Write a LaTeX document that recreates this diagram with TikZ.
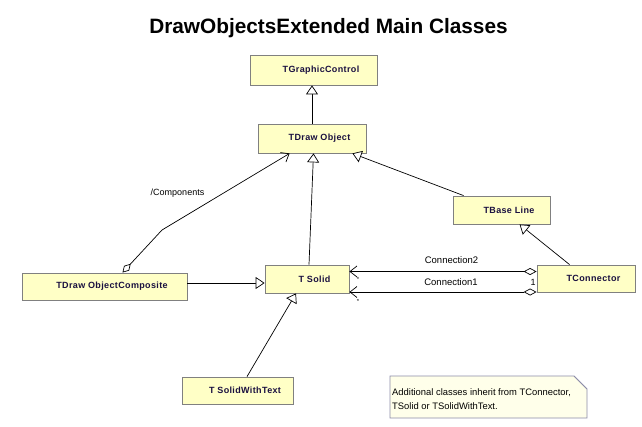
\documentclass[tikz,border=0pt]{standalone}
\usepackage{fontspec}
\setmainfont{Liberation Sans}
\newfontfamily\boxfont[LetterSpace=4]{Liberation Sans}
\usetikzlibrary{arrows.meta,calc}
\definecolor{boxfill}{HTML}{FFFFC6}
\definecolor{boxline}{HTML}{808080}
\definecolor{boxtext}{HTML}{1A1040}
\definecolor{notefill}{HTML}{FFFFEA}
\definecolor{noteline}{HTML}{8C8CA8}
\begin{document}
\begin{tikzpicture}[x=1pt,y=-1pt,
  cls/.style={draw=boxline, fill=boxfill, line width=0.8pt, inner sep=0pt,
    font=\boxfont\bfseries\fontsize{9}{10}\selectfont, text=boxtext,
    execute at begin node=\hspace*{15pt}},
  gen/.style={draw=black, line width=0.7pt, -{Triangle[open, length=9pt, width=12pt, fill=white]}},
  nav/.style={draw=black, line width=0.7pt},
  lbl/.style={font=\fontsize{9.5}{11}\selectfont, inner sep=0pt},
  mult/.style={font=\fontsize{6}{7}\selectfont, inner sep=0pt}
]
\useasboundingbox (0,0) rectangle (642,426);

\node[font=\bfseries\fontsize{20.8}{24}\selectfont, inner sep=0pt] (title) at (328.5,28.5) {DrawObjectsExtended Main Classes};

\node[cls, minimum width=127pt, minimum height=30pt] (gc) at (313.5,70) {TGraphicControl};
\node[cls, minimum width=108pt, minimum height=29pt] (dobj) at (312,138.5) {TDraw Object};
\node[cls, minimum width=97pt, minimum height=28pt] (bline) at (501.5,210) {TBase Line};
\node[cls, minimum width=165pt, minimum height=27pt] (comp) at (104.5,286.5) {TDraw ObjectComposite};
\node[cls, minimum width=84pt, minimum height=28pt] (solid) at (307,279) {T Solid};
\node[cls, minimum width=98pt, minimum height=27pt] (conn) at (586,278.5) {TConnector};
\node[cls, minimum width=111pt, minimum height=27pt] (swt) at (237.5,390.5) {T SolidWithText};

% generalisations
\draw[gen] (dobj.north) -- (dobj.north |- gc.south);
\draw[gen] ($(solid.north)+(2,0)$) -- ($(dobj.south)+(1.5,0)$);
\draw[gen] ($(bline.north west)+(11,0)$) -- ($(dobj.south east)+(-14,0)$);
\draw[gen] ($(conn.north west)+(33,0)$) -- ($(bline.south west)+(67,0)$);
\draw[gen] ($(comp.east)+(0,-3.5)$) -- ($(solid.west)+(0,4)$);
\draw[gen] ($(swt.north)+(9.5,0)$) -- ($(solid.south)+(-11,0)$);

% components aggregation
\coordinate (bend) at (162,230);
\draw[nav, {Diamond[open, length=12pt, width=7pt, fill=white]}-{Straight Barb[length=7pt, width=11pt]}]
  ($(comp.north)+(18,0)$) -- (bend) -- ($(dobj.south west)+(32,0)$);
\node[lbl, font=\fontsize{9}{10}\selectfont] (complbl) at (177.5,193.5) {/Components};

% connections
\draw[nav, {Diamond[open, length=13pt, width=7pt, fill=white]}-{Straight Barb[length=7pt, width=11pt]}]
  ($(conn.west)+(0,-7)$) -- ($(solid.east)+(0,-7.5)$);
\draw[nav, {Diamond[open, length=13pt, width=7pt, fill=white]}-{Straight Barb[length=7pt, width=11pt]}]
  ($(conn.west)+(0,13.5)$) -- ($(solid.east)+(0,13)$);
\node[lbl] (c2) at (451.5,260.5) {Connection2};
\node[lbl] (c1) at (451,282) {Connection1};
\node[mult] (m2) at (358,279.5) {*};
\node[mult] (m1) at (358,301.5) {*};
\node[lbl, font=\fontsize{9}{10}\selectfont] (one) at (533,282) {1};

% note
\coordinate (nA) at (390,376);
\coordinate (nB) at (574,376);
\coordinate (nC) at (587,389);
\coordinate (nD) at (587,418);
\coordinate (nE) at (390,418);
\draw[draw=noteline, fill=notefill, line width=0.8pt] (nA) -- (nB) -- (nC) -- (nD) -- (nE) -- cycle;
\draw[draw=noteline, line width=0.6pt] (nB) -- (nC);
\node[lbl, anchor=north west, align=left, font=\fontsize{9.4}{13.5}\selectfont] (notetext) at (392,388.5)
  {Additional classes inherit from TConnector,\\TSolid or TSolidWithText.};
\end{tikzpicture}
\end{document}
